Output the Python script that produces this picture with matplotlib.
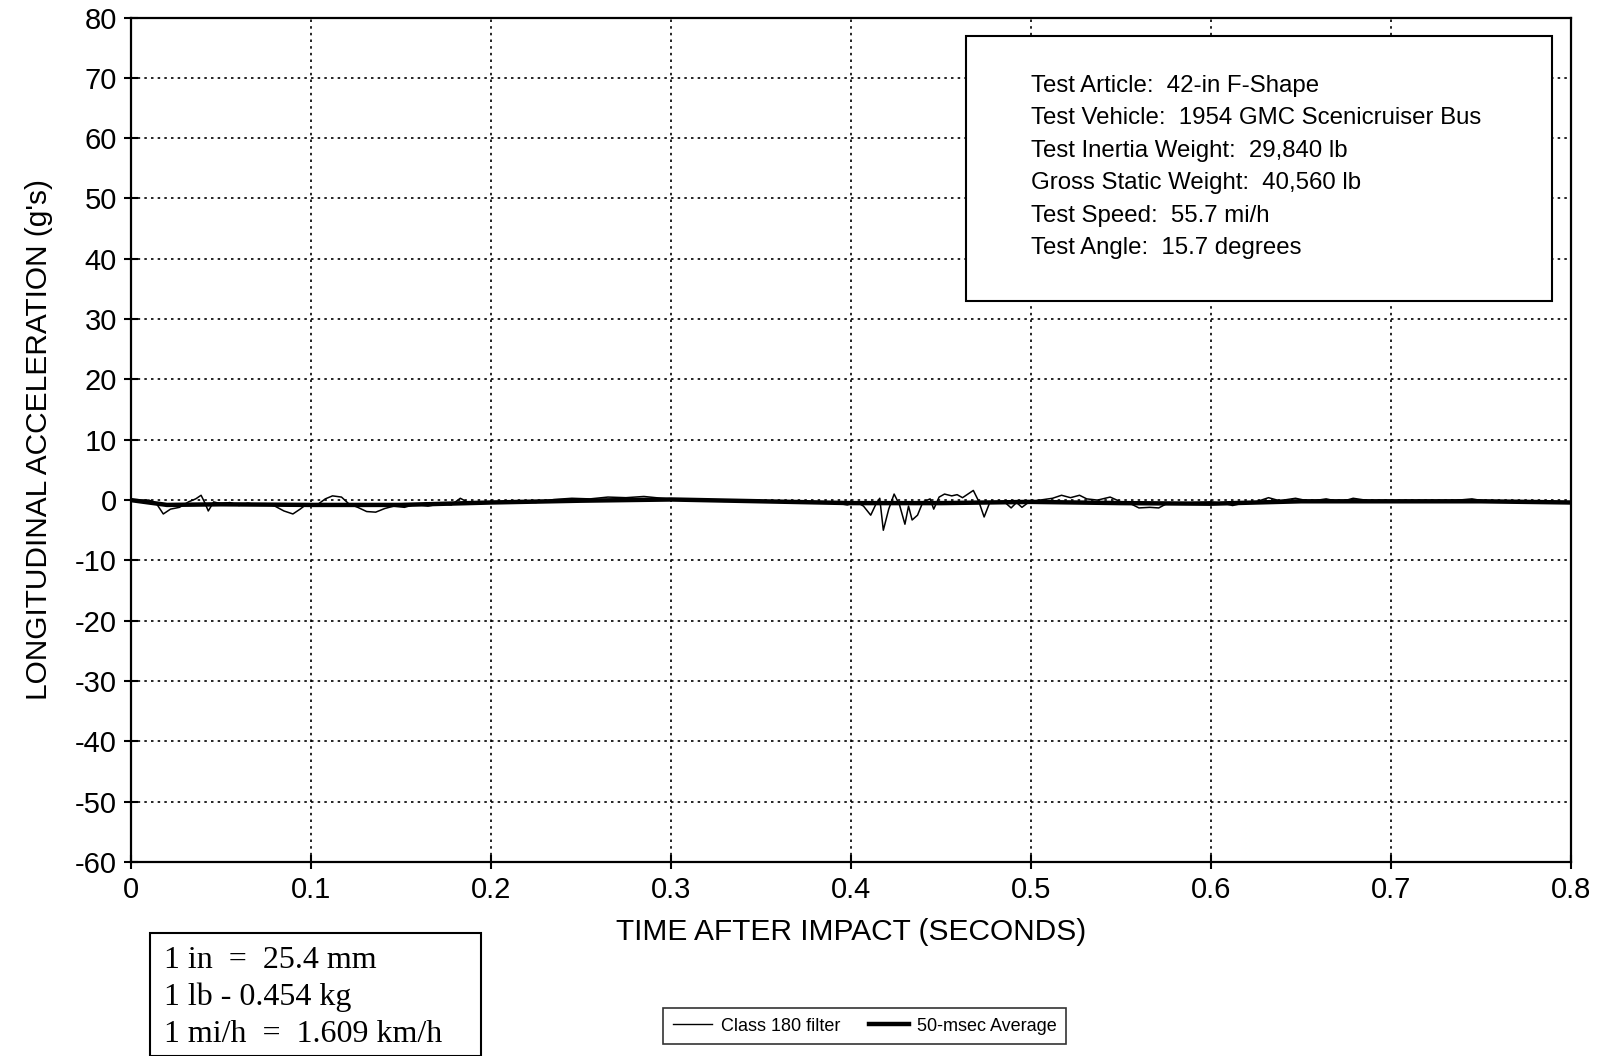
import matplotlib.pyplot as plt
from matplotlib.lines import Line2D
from matplotlib.patches import Rectangle

# Class 180 filter trace (time in s, acceleration in g's)
filter_t = [0.000, 0.010, 0.014, 0.018, 0.022, 0.027, 0.032, 0.036, 0.039, 0.041,
            0.043, 0.046, 0.050, 0.055, 0.060, 0.065, 0.070, 0.075, 0.080, 0.085,
            0.090, 0.094, 0.098, 0.103, 0.108, 0.112, 0.117, 0.121, 0.126, 0.131,
            0.136, 0.141, 0.146, 0.152, 0.158, 0.165, 0.172, 0.178, 0.183, 0.188,
            0.195, 0.205, 0.215, 0.225, 0.235, 0.245, 0.255, 0.265, 0.275, 0.285,
            0.295, 0.305, 0.315, 0.330, 0.345, 0.360, 0.370, 0.380, 0.390, 0.398,
            0.403, 0.407, 0.411, 0.414, 0.416, 0.418, 0.421, 0.424, 0.427, 0.430,
            0.432, 0.434, 0.437, 0.440, 0.444, 0.446, 0.449, 0.452, 0.456, 0.459,
            0.462, 0.465, 0.468, 0.471, 0.474, 0.477, 0.482, 0.486, 0.489, 0.492,
            0.495, 0.499, 0.505, 0.512, 0.517, 0.522, 0.527, 0.531, 0.537, 0.544,
            0.550, 0.556, 0.560, 0.566, 0.571, 0.576, 0.582, 0.590, 0.600, 0.608,
            0.612, 0.618, 0.625, 0.632, 0.638, 0.647, 0.655, 0.664, 0.672, 0.679,
            0.688, 0.700, 0.715, 0.730, 0.745, 0.755, 0.770, 0.785, 0.800]
filter_g = [0.0, 0.0, -0.5, -2.3, -1.5, -1.2, -0.3, 0.2, 0.8, -0.4,
            -1.8, -0.3, -0.6, -0.4, -0.9, -0.5, -0.8, -0.6, -1.0, -1.8,
            -2.3, -1.5, -0.6, -0.9, 0.2, 0.7, 0.5, -0.6, -1.2, -1.9,
            -2.0, -1.4, -1.0, -1.2, -0.7, -1.0, -0.6, -0.8, 0.3, -0.5,
            -0.3, -0.5, -0.2, -0.4, 0.1, 0.3, 0.2, 0.5, 0.4, 0.6,
            0.3, 0.0, -0.1, -0.2, -0.1, -0.3, -0.2, -0.5, -0.4, -0.8,
            -0.3, -1.0, -2.5, -0.6, 0.3, -5.0, -1.5, 1.0, -0.8, -4.0,
            -1.0, -3.3, -2.5, -0.3, 0.2, -1.5, 0.5, 1.0, 0.7, 0.9,
            0.4, 1.0, 1.6, -0.2, -2.8, -0.5, -0.3, -0.5, -1.3, -0.4,
            -1.2, -0.3, 0.0, 0.3, 0.8, 0.4, 0.8, 0.2, 0.0, 0.5,
            -0.3, -0.7, -1.3, -1.2, -1.3, -0.5, -0.6, -0.4, -0.3, -0.6,
            -0.9, -0.5, -0.3, 0.4, -0.1, 0.3, -0.2, 0.2, -0.3, 0.3,
            -0.1, -0.2, -0.3, -0.2, 0.2, -0.3, -0.2, -0.3, -0.4]

# 50-msec average trace
avg_t = [0.0, 0.02, 0.05, 0.10, 0.15, 0.20, 0.25, 0.30, 0.35, 0.40,
         0.45, 0.50, 0.55, 0.60, 0.65, 0.70, 0.75, 0.80]
avg_g = [0.0, -0.8, -0.7, -0.8, -0.8, -0.4, -0.1, 0.1, -0.2, -0.5,
         -0.5, -0.3, -0.5, -0.6, -0.2, -0.2, -0.2, -0.4]

x_ticks = [0, 0.1, 0.2, 0.3, 0.4, 0.5, 0.6, 0.7, 0.8]
x_labels = ['0', '0.1', '0.2', '0.3', '0.4', '0.5', '0.6', '0.7', '0.8']
y_ticks = list(range(-60, 81, 10))

info_lines = ['Test Article:  42-in F-Shape',
              'Test Vehicle:  1954 GMC Scenicruiser Bus',
              'Test Inertia Weight:  29,840 lb',
              'Gross Static Weight:  40,560 lb',
              'Test Speed:  55.7 mi/h',
              'Test Angle:  15.7 degrees']
conv_lines = ['1 in  =  25.4 mm', '1 lb - 0.454 kg', '1 mi/h  =  1.609 km/h']

plt.rcParams['font.family'] = ['Liberation Sans', 'DejaVu Sans']
plt.rcParams['axes.unicode_minus'] = False

fig = plt.figure(figsize=(16.04, 10.56), dpi=100)
ax = fig.add_axes([0.0816, 0.1837, 0.8978, 0.7997])

ax.plot(filter_t, filter_g, color='black', lw=1.1)
ax.plot(avg_t, avg_g, color='black', lw=3.2)

ax.set_xlim(0, 0.8)
ax.set_ylim(-60, 80)
ax.set_xticks(x_ticks)
ax.set_xticklabels(x_labels)
ax.set_yticks(y_ticks)
ax.tick_params(direction='inout', length=10, width=1.5, labelsize=21, pad=5)
ax.grid(True, color='black', linestyle=(0, (1.5, 2.5)), lw=1.2)
for s in ax.spines.values():
    s.set_linewidth(1.6)

ax.set_xlabel('TIME AFTER IMPACT (SECONDS)', fontsize=21.5, labelpad=10)
ax.set_ylabel("LONGITUDINAL ACCELERATION (g's)", fontsize=21.5, labelpad=16)

# test info box
ax.add_patch(Rectangle((0.580, 0.664), 0.4065, 0.314, transform=ax.transAxes,
                       facecolor='white', edgecolor='black', lw=1.5, zorder=5))
for i, line in enumerate(info_lines):
    ax.text(0.625, 0.919 - i * 0.0385, line, transform=ax.transAxes,
            fontsize=17.3, va='center', ha='left', zorder=6)

# unit conversions box
fig.patches.append(Rectangle((150 / 1604, 0.0), 331 / 1604, 123 / 1056,
                             transform=fig.transFigure, facecolor='white',
                             edgecolor='black', lw=1.5))
for i, line in enumerate(conv_lines):
    fig.text(164 / 1604, 1 - (960 + i * 37) / 1056, line, fontsize=23,
             va='center', ha='left', family=['Liberation Serif', 'DejaVu Serif'])

handles = [Line2D([], [], color='black', lw=1.0),
           Line2D([], [], color='black', lw=3.2)]
leg = fig.legend(handles, ['Class 180 filter', '50-msec Average'], ncol=2,
                 loc='center', bbox_to_anchor=(0.539, 0.0284), fontsize=13,
                 frameon=True, fancybox=False, edgecolor='black',
                 handlelength=2.2, handletextpad=0.45, columnspacing=1.6,
                 borderpad=0.55, borderaxespad=0)
leg.get_frame().set_linewidth(1.2)

fig.savefig('out.png', dpi=100)
